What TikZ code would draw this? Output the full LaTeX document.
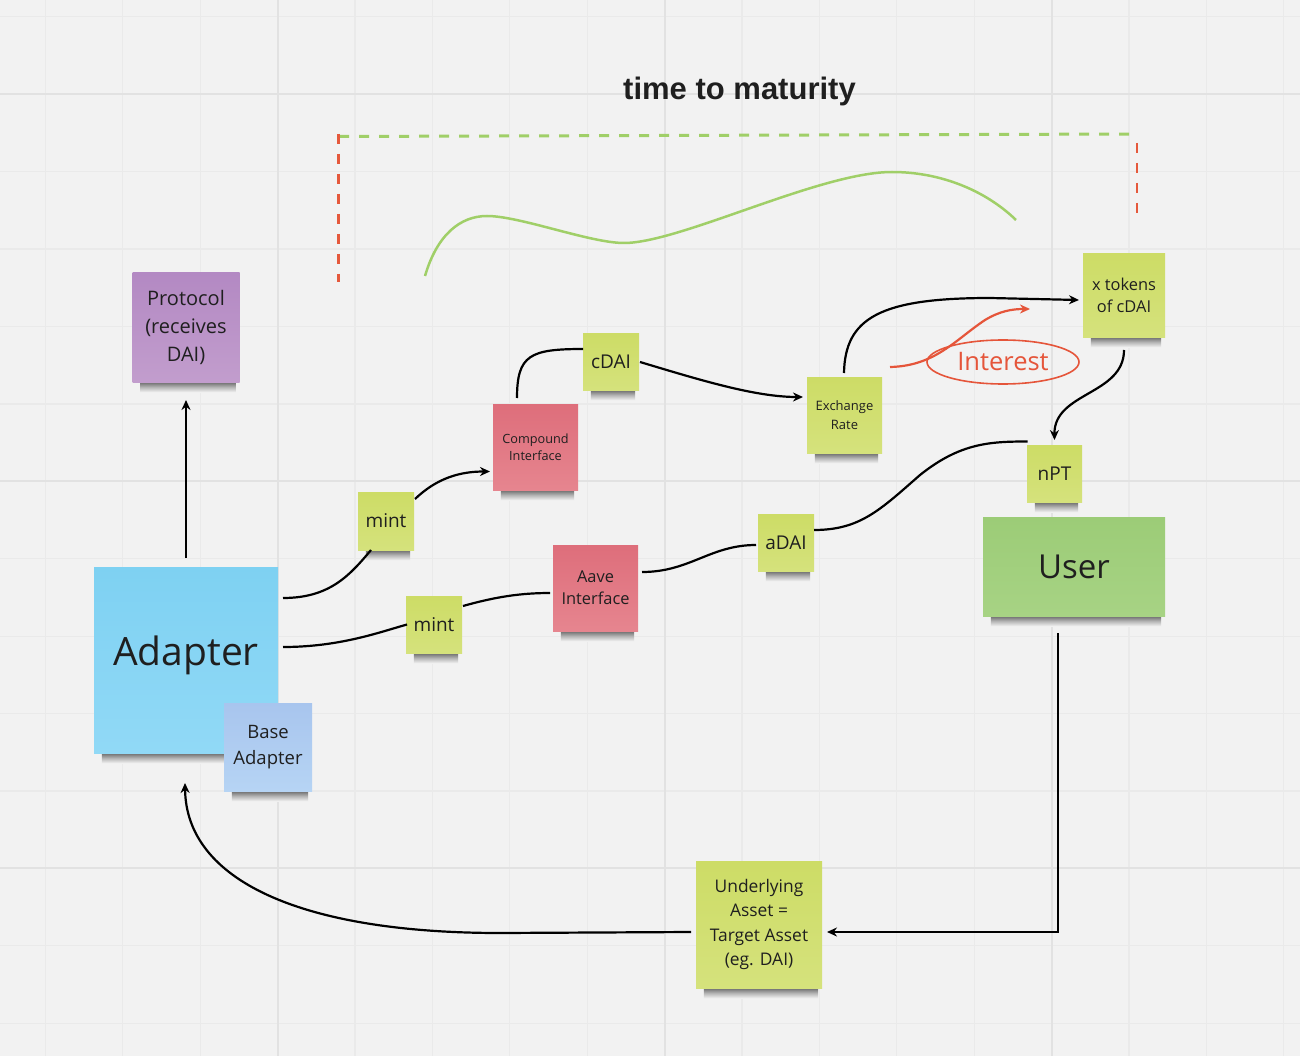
\documentclass[tikz,border=0pt]{standalone}
\usepackage{fontspec}
\setmainfont{Open Sans}
\newfontfamily\titlefont{Liberation Sans}
\usetikzlibrary{arrows.meta,shapes.geometric}
\definecolor{bg}{HTML}{F2F2F2}
\definecolor{gridminor}{HTML}{EAEAEA}
\definecolor{gridmajor}{HTML}{E2E2E2}
\definecolor{ink}{HTML}{1F1F1F}
\definecolor{yelT}{HTML}{CDDC66}
\definecolor{yelB}{HTML}{D5E27C}
\definecolor{redT}{HTML}{DE6E7B}
\definecolor{redB}{HTML}{E6858F}
\definecolor{purT}{HTML}{B389C3}
\definecolor{purB}{HTML}{C29DCD}
\definecolor{bluT}{HTML}{7ED1F2}
\definecolor{bluB}{HTML}{91D9F6}
\definecolor{lbluT}{HTML}{A8C5EE}
\definecolor{lbluB}{HTML}{B6D4F4}
\definecolor{grnT}{HTML}{9CCC77}
\definecolor{grnB}{HTML}{A7D384}
\definecolor{intred}{HTML}{E5553A}
\definecolor{dashgreen}{HTML}{A0CF68}
\definecolor{dashred}{HTML}{E5593C}
\definecolor{shad}{HTML}{6E6E6E}
\begin{document}
\begin{tikzpicture}[x=1pt,y=-1pt,
  note/.style={rectangle, draw=none, inner sep=2pt, align=center, text=ink,
    append after command={
      \pgfextra{\shade[top color=shad, bottom color=bg, middle color=shad!45!bg]
        ([xshift=8pt]\tikzlastnode.south west) rectangle ([xshift=-4pt,yshift=-10pt]\tikzlastnode.south east);}}},
  yel/.style={note, top color=yelT, bottom color=yelB},
  rednote/.style={note, top color=redT, bottom color=redB},
  conn/.style={draw=black, line width=2.2pt},
  arr/.style={conn, -{Stealth[length=10pt,width=9pt]}},
  small/.style={font=\fontsize{19}{24}\selectfont}
]
\useasboundingbox (0,0) rectangle (1300,1056);
\fill[bg] (0,0) rectangle (1300,1056);
% grid
\foreach \i in {-3,...,13} \draw[gridminor, line width=1.2pt] ({277.5+77.4*\i},0) -- ({277.5+77.4*\i},1056);
\foreach \j in {-1,...,12} \draw[gridminor, line width=1.2pt] (0,{94.3+77.4*\j}) -- (1300,{94.3+77.4*\j});
\foreach \i in {0,1,2} \draw[gridmajor, line width=2pt] ({277.5+387*\i},0) -- ({277.5+387*\i},1056);
\foreach \j in {0,1,2} \draw[gridmajor, line width=2pt] (0,{94.3+387*\j}) -- (1300,{94.3+387*\j});

% title
\node[font=\titlefont\bfseries\fontsize{31}{36}\selectfont, text=ink] (title) at (739.5,91) {time to maturity};

% dashed frame
\draw[dashgreen, line width=3pt, dash pattern=on 10pt off 10pt] (339,136.5) -- (1138,134);
\draw[dashred, line width=2.5pt, dash pattern=on 10pt off 10pt] (338.5,134) -- (338.5,282);
\draw[dashred, line width=2.5pt, dash pattern=on 10pt off 10pt] (1137,143) -- (1137,213);

% green curve
\draw[dashgreen, line width=2.5pt] (425,276) .. controls (437,235) and (460,216) .. (487,216)
  .. controls (520,216) and (590,243) .. (624,243)
  .. controls (680,243) and (820,172) .. (892,172)
  .. controls (940,172) and (985,190) .. (1016,220);

% notes
\node[note, top color=purT, bottom color=purB, minimum width=107pt, minimum height=109pt, font=\fontsize{20}{28}\selectfont] (protocol) at (186,327.5) {Protocol\\(receives\\DAI)};
\node[note, top color=bluT, bottom color=bluB, minimum width=184pt, minimum height=186pt] (adapter) at (186,660) {};
\node[font=\fontsize{39}{46}\selectfont, text=ink] (adaptertext) at (186,655) {Adapter};
\node[note, top color=lbluT, bottom color=lbluB, minimum width=88pt, minimum height=88pt, font=\fontsize{18.5}{26}\selectfont] (base) at (268,747) {Base\\Adapter};
\node[yel, minimum width=56pt, minimum height=58pt, small] (mint1) at (386,521) {mint};
\node[yel, minimum width=56pt, minimum height=57pt, small] (mint2) at (434,624.5) {mint};
\node[rednote, minimum width=85pt, minimum height=86pt, font=\fontsize{12.7}{17}\selectfont] (compound) at (535.5,447) {Compound\\Interface};
\node[yel, minimum width=56pt, minimum height=57pt, small] (cdai) at (611,361.5) {cDAI};
\node[rednote, minimum width=85pt, minimum height=86pt, font=\fontsize{16.4}{22}\selectfont] (aave) at (595.5,588) {Aave\\Interface};
\node[yel, minimum width=75pt, minimum height=76pt, font=\fontsize{13}{19}\selectfont] (exch) at (844.5,415) {Exchange\\Rate};
\node[yel, minimum width=56pt, minimum height=57pt, small] (adai) at (786,542.5) {aDAI};
\node[yel, minimum width=82pt, minimum height=83pt, font=\fontsize{16.4}{22}\selectfont] (xtok) at (1124,295.5) {x tokens\\of cDAI};
\node[yel, minimum width=55pt, minimum height=57pt, small] (npt) at (1054.5,473.5) {nPT};
\node[note, top color=grnT, bottom color=grnB, minimum width=182pt, minimum height=99pt, font=\fontsize{33}{40}\selectfont] (user) at (1074,566.5) {User};
\node[yel, minimum width=126pt, minimum height=127pt, font=\fontsize{17.4}{24.5}\selectfont] (under) at (759,924.5) {Underlying\\Asset =\\Target Asset\\(eg. DAI)};

% interest
\node[ellipse, draw=intred, line width=1.6pt, minimum width=152pt, minimum height=44pt, inner sep=0pt, text=intred, font=\fontsize{25.5}{30}\selectfont] (interest) at (1003,362) {Interest};
\coordinate (intA) at (890,367);
\coordinate (intB) at (1030,309);
\draw[intred, line width=2.2pt, -{Stealth[length=10pt,width=9pt]}] (intA) .. controls (935,366) and (955,340) .. (985,320) .. controls (1000,311) and (1012,309) .. (intB);

% connectors
\draw[arr] ([shift={(0,-102)}]adapter.center) -- ([shift={(0,72.5)}]protocol.center);
\draw[conn] ([shift={(97,-62)}]adapter.center) .. controls (330,598) and (350,575) .. ([shift={(-15,29)}]mint1.center);
\draw[arr] ([shift={(29,-22)}]mint1.center) .. controls (437,478) and (460,471.5) .. ([shift={(-45.5,24.5)}]compound.center);
\draw[conn] ([shift={(-18.5,-49)}]compound.center) .. controls (517,355) and (530,349) .. ([shift={(-28,-12.5)}]cdai.center);
\draw[arr] ([shift={(29,0.5)}]cdai.center) .. controls (700,380) and (755,397) .. ([shift={(-41.5,-18)}]exch.center);
\draw[arr] ([shift={(-0.5,-42)}]exch.center) .. controls (845,318) and (880,298) .. (990,298) -- ([shift={(-45,4.5)}]xtok.center);
\draw[arr] ([shift={(0,54.5)}]xtok.center) .. controls (1124,395) and (1054,392) .. ([shift={(0,-33.5)}]npt.center);
\draw[conn] ([shift={(28,-12.5)}]adai.center) .. controls (860,530) and (880,510) .. (920,475) .. controls (960,443) and (990,441.5) .. ([shift={(-27,-32)}]npt.center);
\draw[conn] ([shift={(46.5,-16)}]aave.center) .. controls (690,572) and (710,545) .. ([shift={(-30,2.5)}]adai.center);
\draw[conn] ([shift={(97,-13)}]adapter.center) .. controls (340,647) and (380,632) .. ([shift={(-27,0)}]mint2.center);
\draw[conn] ([shift={(29,-18.5)}]mint2.center) .. controls (495,597) and (520,593) .. ([shift={(-45.5,5)}]aave.center);
\draw[arr] ([shift={(-16,66.5)}]user.center) |- ([shift={(68,7.5)}]under.center);
\draw[arr] ([shift={(-68,7.5)}]under.center) -- (500,933) .. controls (300,933) and (186,880) .. ([shift={(-1,123)}]adapter.center);
\end{tikzpicture}
\end{document}
